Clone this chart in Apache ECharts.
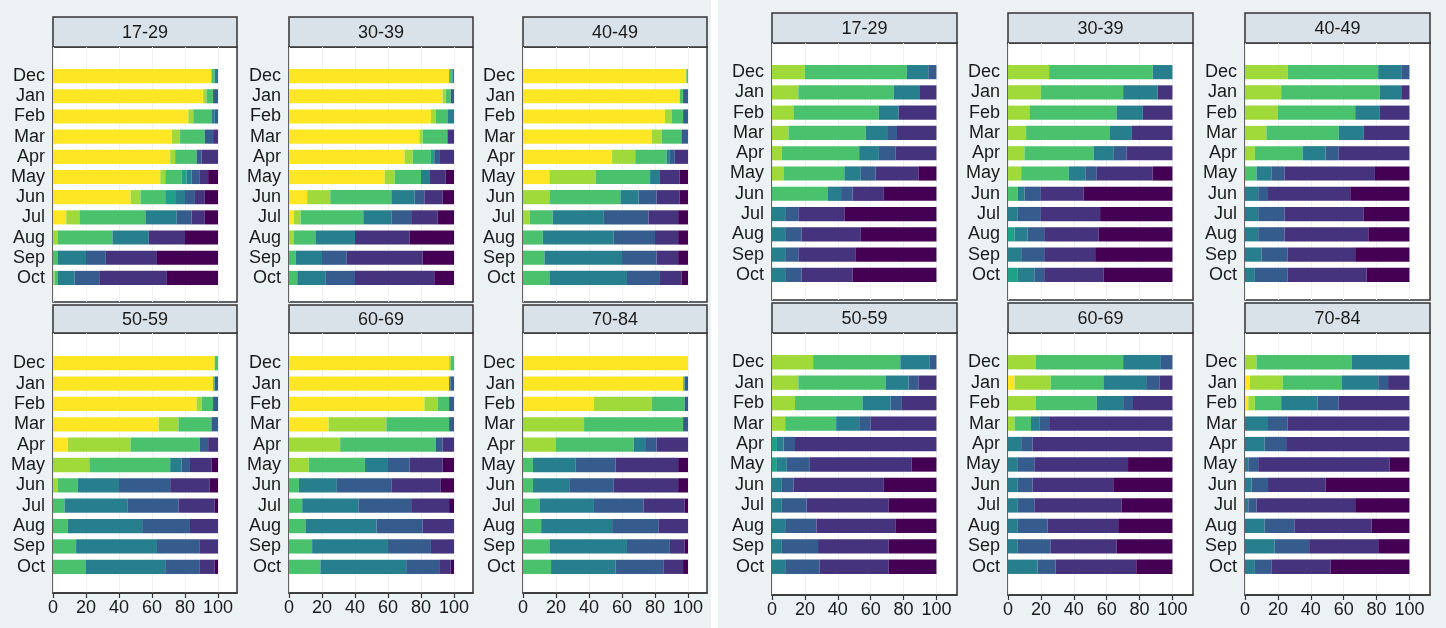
<!DOCTYPE html>
<html>
<head>
<meta charset="utf-8">
<title>Monthly shares by age group</title>
<script src="https://cdn.jsdelivr.net/npm/echarts@6/dist/echarts.min.js"></script>
<style>
  html, body { margin: 0; padding: 0; background: #fff; }
  #chart { width: 1446px; height: 628px; }
</style>
</head>
<body>
<div id="chart"></div>
<script>
const months = ['Dec', 'Jan', 'Feb', 'Mar', 'Apr', 'May', 'Jun', 'Jul', 'Aug', 'Sep', 'Oct'];
const ageGroups = ['17-29', '30-39', '40-49', '50-59', '60-69', '70-84'];
const levels = ['L1', 'L2', 'L3', 'L4', 'L5', 'L6', 'L7', 'L8'];
const levelColors = ['#FDE725', '#9FDA3A', '#4AC16D', '#1FA187', '#277F8E', '#365C8D', '#46337E', '#440154'];

// left figure: one row per month (Dec..Oct), one column per level (percent)
const left_17_29 = [
  [96, 0, 2, 0, 2, 0, 0, 0], [91, 2, 4, 0, 0, 3, 0, 0], [82, 3, 11, 0, 2, 2, 0, 0],
  [72, 5, 15, 0, 0, 5, 3, 0], [71, 3, 13, 0, 0, 3, 10, 0], [65, 3, 10, 3, 3, 5, 5, 6],
  [47, 6, 15, 6, 6, 6, 6, 8], [8, 8, 40, 0, 19, 9, 8, 8], [0, 3, 33, 0, 22, 0, 22, 20],
  [0, 0, 3, 0, 17, 12, 31, 37], [0, 1, 2, 0, 10, 15, 41, 31]
];
const left_30_39 = [
  [97, 0, 2, 0, 1, 0, 0, 0], [93, 2, 3, 0, 0, 2, 0, 0], [86, 3, 7, 0, 4, 0, 0, 0],
  [79, 2, 15, 0, 0, 0, 4, 0], [70, 5, 11, 2, 0, 3, 9, 0], [58, 6, 16, 0, 5, 0, 10, 5],
  [11, 14, 37, 0, 14, 6, 11, 7], [3, 4, 38, 0, 17, 12, 16, 10], [0, 3, 13, 0, 24, 0, 33, 27],
  [0, 0, 4, 0, 16, 15, 46, 19], [0, 0, 5, 0, 17, 18, 48, 12]
];
const left_40_49 = [
  [99, 0, 1, 0, 0, 0, 0, 0], [95, 0, 2, 0, 0, 3, 0, 0], [86, 4, 7, 0, 0, 3, 0, 0],
  [78, 6, 12, 0, 0, 4, 0, 0], [54, 14, 19, 0, 2, 3, 8, 0], [16, 28, 33, 0, 6, 0, 12, 5],
  [0, 16, 43, 0, 11, 11, 14, 5], [0, 4, 14, 0, 31, 27, 18, 6], [0, 0, 12, 0, 43, 25, 14, 6],
  [0, 0, 13, 0, 47, 21, 13, 6], [0, 0, 16, 0, 47, 20, 13, 4]
];
const left_50_59 = [
  [98, 0, 2, 0, 0, 0, 0, 0], [97, 0, 1, 0, 0, 2, 0, 0], [87, 3, 7, 0, 0, 3, 0, 0],
  [64, 12, 20, 0, 0, 4, 0, 0], [9, 38, 42, 0, 0, 5, 6, 0], [0, 22, 49, 0, 7, 5, 13, 4],
  [0, 3, 12, 0, 25, 31, 24, 5], [0, 0, 7, 0, 38, 31, 22, 2], [0, 0, 9, 0, 45, 29, 17, 0],
  [0, 0, 14, 0, 49, 26, 11, 0], [0, 0, 20, 0, 48, 21, 9, 2]
];
const left_60_69 = [
  [97, 1, 2, 0, 0, 0, 0, 0], [97, 0, 0, 0, 1, 2, 0, 0], [82, 8, 7, 0, 0, 3, 0, 0],
  [24, 35, 38, 0, 0, 3, 0, 0], [0, 31, 58, 0, 0, 4, 7, 0], [0, 12, 34, 0, 14, 13, 20, 7],
  [0, 0, 6, 0, 23, 33, 30, 8], [0, 0, 8, 0, 34, 32, 23, 3], [0, 0, 10, 0, 43, 28, 19, 0],
  [0, 0, 14, 0, 46, 26, 14, 0], [0, 0, 19, 0, 52, 20, 7, 2]
];
const left_70_84 = [
  [100, 0, 0, 0, 0, 0, 0, 0], [97, 0, 1, 0, 0, 2, 0, 0], [43, 35, 20, 0, 0, 2, 0, 0],
  [0, 37, 60, 0, 0, 3, 0, 0], [0, 20, 47, 0, 7, 7, 19, 0], [0, 0, 6, 0, 26, 24, 38, 6],
  [0, 0, 6, 0, 22, 27, 39, 6], [0, 0, 10, 0, 33, 30, 25, 2], [0, 0, 11, 0, 43, 28, 18, 0],
  [0, 0, 16, 0, 47, 26, 9, 2], [0, 0, 17, 0, 39, 29, 12, 3]
];

// right figure
const right_17_29 = [
  [0, 20, 62, 0, 13, 5, 0, 0], [0, 16, 58, 0, 16, 0, 10, 0], [0, 13, 52, 0, 12, 0, 23, 0],
  [0, 10, 47, 0, 13, 6, 24, 0], [0, 6, 47, 0, 12, 10, 25, 0], [0, 7, 37, 0, 10, 9, 26, 11],
  [0, 0, 34, 0, 8, 7, 19, 32], [0, 0, 0, 0, 8, 8, 28, 56], [0, 0, 0, 0, 8, 10, 36, 46],
  [0, 0, 0, 0, 8, 8, 35, 49], [0, 0, 0, 0, 8, 10, 31, 51]
];
const right_30_39 = [
  [0, 25, 63, 0, 12, 0, 0, 0], [0, 20, 50, 0, 21, 0, 9, 0], [0, 13, 53, 0, 16, 0, 18, 0],
  [0, 11, 51, 0, 13, 0, 25, 0], [0, 10, 42, 0, 12, 8, 28, 0], [0, 8, 29, 0, 10, 7, 34, 12],
  [0, 0, 6, 0, 4, 10, 26, 54], [0, 0, 0, 0, 6, 14, 36, 44], [0, 0, 0, 4, 8, 10, 33, 45],
  [0, 0, 0, 0, 8, 14, 31, 47], [0, 0, 0, 6, 10, 6, 36, 42]
];
const right_40_49 = [
  [0, 26, 55, 0, 14, 5, 0, 0], [0, 22, 60, 0, 13, 0, 5, 0], [0, 20, 47, 0, 15, 0, 18, 0],
  [0, 13, 44, 0, 15, 0, 28, 0], [0, 6, 29, 0, 14, 8, 43, 0], [0, 0, 7, 0, 9, 8, 55, 21],
  [0, 0, 0, 0, 8, 6, 50, 36], [0, 0, 0, 0, 8, 16, 48, 28], [0, 0, 0, 0, 8, 16, 51, 25],
  [0, 0, 0, 0, 10, 16, 41, 33], [0, 0, 0, 0, 6, 20, 48, 26]
];
const right_50_59 = [
  [0, 25, 53, 0, 18, 4, 0, 0], [0, 16, 53, 0, 14, 6, 11, 0], [0, 14, 41, 0, 17, 7, 21, 0],
  [0, 8, 31, 0, 14, 7, 40, 0], [0, 0, 0, 3, 4, 7, 86, 0], [0, 0, 0, 3, 6, 14, 62, 15],
  [0, 0, 0, 0, 6, 7, 55, 32], [0, 0, 0, 0, 6, 15, 50, 29], [0, 0, 0, 0, 8, 19, 48, 25],
  [0, 0, 0, 0, 6, 22, 43, 29], [0, 0, 0, 0, 8, 21, 42, 29]
];
const right_60_69 = [
  [0, 17, 53, 0, 23, 7, 0, 0], [4, 22, 32, 0, 26, 8, 8, 0], [0, 17, 37, 0, 16, 6, 24, 0],
  [0, 4, 10, 0, 5, 6, 75, 0], [0, 0, 0, 0, 8, 7, 85, 0], [0, 0, 0, 0, 6, 10, 57, 27],
  [0, 0, 0, 0, 6, 9, 49, 36], [0, 0, 0, 0, 6, 10, 53, 31], [0, 0, 0, 0, 6, 18, 43, 33],
  [0, 0, 0, 0, 6, 20, 40, 34], [0, 0, 0, 0, 18, 11, 49, 22]
];
const right_70_84 = [
  [0, 7, 58, 0, 35, 0, 0, 0], [3, 20, 36, 0, 22, 6, 13, 0], [2, 4, 16, 0, 22, 13, 43, 0],
  [0, 0, 0, 0, 14, 12, 74, 0], [0, 0, 0, 0, 12, 13, 75, 0], [0, 0, 0, 0, 2, 6, 80, 12],
  [0, 0, 0, 0, 4, 10, 35, 51], [0, 0, 0, 0, 2, 5, 60, 33], [0, 0, 0, 0, 12, 18, 47, 23],
  [0, 0, 0, 0, 18, 21, 42, 19], [0, 0, 0, 0, 6, 10, 36, 48]
];

const xTicks = [0, 20, 40, 60, 80, 100];

const FONT = '"Liberation Sans", Arial, sans-serif';
const INK = '#1a1a1a';
const FRAME = '#333333';

// layout of the two pasted figures
const panels = [
  {
    data: [left_17_29, left_30_39, left_40_49, left_50_59, left_60_69, left_70_84],
    cols: [53, 289, 523], width: 184, max: 111.5,
    rows: [
      { head: 17, top: 47, bottom: 302, bandTop: 66, bandBottom: 288 },
      { head: 305, top: 333, bottom: 593, bandTop: 353, bandBottom: 577 }
    ]
  },
  {
    data: [right_17_29, right_30_39, right_40_49, right_50_59, right_60_69, right_70_84],
    cols: [772, 1008, 1245], width: 185, max: 112.5,
    rows: [
      { head: 13, top: 43, bottom: 300, bandTop: 62, bandBottom: 285 },
      { head: 303, top: 333, bottom: 595, bandTop: 352, bandBottom: 577 }
    ]
  }
];

let myChart = echarts.init(document.getElementById('chart'));

const grid = [], xAxis = [], yAxis = [], series = [], graphic = [];

// white strip between the two figures
graphic.push({
  type: 'rect', z: 100,
  shape: { x: 711, y: 0, width: 7, height: 628 },
  style: { fill: '#ffffff' }
});

panels.forEach(function(p, pi) {
  p.data.forEach(function(rows, i) {
    const r = p.rows[Math.floor(i / 3)];
    const left = p.cols[i % 3];
    const bottomRow = i >= 3;
    const g = grid.length;

    // frame grid (plot box)
    grid.push({
      left: left, top: r.top, width: p.width, height: r.bottom - r.top,
      show: true, backgroundColor: '#ffffff', borderColor: FRAME, borderWidth: 1.5
    });
    // inner grid holding the bars
    grid.push({
      left: left, top: r.bandTop, width: p.width, height: r.bandBottom - r.bandTop
    });

    xAxis.push({
      gridIndex: g, type: 'value', min: 0, max: p.max, interval: 20,
      axisLine: { show: bottomRow, lineStyle: { color: FRAME, width: 1.5 } },
      axisTick: { show: bottomRow, customValues: xTicks, length: 5, lineStyle: { color: FRAME, width: 1.2 } },
      axisLabel: {
        show: bottomRow, customValues: xTicks, fontSize: 18, color: INK, fontFamily: FONT, margin: 6
      },
      splitLine: { show: true, lineStyle: { color: '#eef1f3', width: 1 } }
    });
    yAxis.push({ gridIndex: g, type: 'value', show: false });

    // axes of the inner grid
    xAxis.push({ gridIndex: g + 1, type: 'value', min: 0, max: p.max, show: false });
    yAxis.push({
      gridIndex: g + 1, type: 'category', data: months, inverse: true,
      axisLine: { show: false }, axisTick: { show: false },
      axisLabel: { interval: 0, fontSize: 18, color: INK, fontFamily: FONT, margin: 8 }
    });
    const ax = xAxis.length - 1;

    levels.forEach(function(name, k) {
      series.push({
        name: name, type: 'bar', stack: 'f' + pi + '_' + i,
        xAxisIndex: ax, yAxisIndex: ax,
        barWidth: '70%',
        itemStyle: { color: levelColors[k] },
        data: rows.map(function(row) { return row[k] })
      });
    });

    // facet header strip
    graphic.push({
      type: 'rect',
      shape: { x: left, y: r.head, width: p.width, height: r.top - r.head },
      style: { fill: '#d9e2e8', stroke: FRAME, lineWidth: 1.5 }
    });
    graphic.push({
      type: 'text',
      x: left + p.width / 2, y: (r.head + r.top) / 2 + 1,
      style: {
        text: ageGroups[i], fill: INK, font: '18px ' + FONT,
        textAlign: 'center', textVerticalAlign: 'middle'
      }
    });
  });
});

var option = {
  backgroundColor: '#ecf2f4',
  animation: false,
  grid: grid,
  xAxis: xAxis,
  yAxis: yAxis,
  series: series,
  graphic: graphic
};

myChart.setOption(option);
</script>
</body>
</html>
